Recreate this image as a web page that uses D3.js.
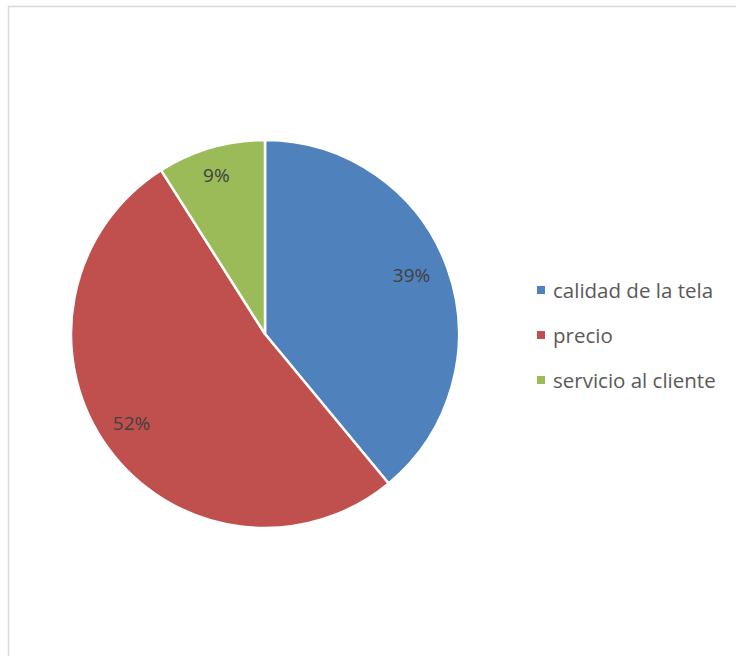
<!DOCTYPE html>
<html>
<head>
<meta charset="utf-8">
<script src="https://cdn.jsdelivr.net/npm/d3@7"></script>
<style>
  html, body { margin: 0; padding: 0; background: #fff; }
  svg { display: block; }
</style>
</head>
<body>
<svg id="chart" width="736" height="656"></svg>
<script>
// Factors reported by respondents (share of answers)
const categories = ["calidad de la tela", "precio", "servicio al cliente"];
const values = [39, 52, 9];
const colors = ["#4f81bd", "#c0504d", "#9bbb59"];

const svg = d3.select("#chart");
const W = 736, H = 656;
const font = "'Open Sans', 'Liberation Sans', sans-serif";

// chart area frame
svg.append("rect")
  .attr("x", 8.5).attr("y", 6.5)
  .attr("width", W + 10).attr("height", H + 10)
  .attr("fill", "#fff")
  .attr("stroke", "#d9d9d9").attr("stroke-width", 1.5);

const cx = 265, cy = 334, r = 194;

const pie = d3.pie().value(d => d).sort(null);
const arcs = pie(values);
const arc = d3.arc().innerRadius(0).outerRadius(r);
const labelArc = d3.arc().innerRadius(160).outerRadius(160);

const g = svg.append("g").attr("transform", `translate(${cx},${cy})`);

g.selectAll("path.slice")
  .data(arcs)
  .enter().append("path")
  .attr("class", "slice")
  .attr("d", arc)
  .attr("fill", (d, i) => colors[i])
  .attr("stroke", "#fff")
  .attr("stroke-width", 2.5)
  .attr("stroke-linejoin", "round");

g.selectAll("text.lbl")
  .data(arcs)
  .enter().append("text")
  .attr("class", "lbl")
  .attr("transform", d => {
    const [x, y] = labelArc.centroid(d);
    return `translate(${x - 4},${y - 5})`;
  })
  .attr("text-anchor", "middle")
  .attr("dominant-baseline", "central")
  .attr("font-family", font)
  .attr("font-size", 19)
  .attr("fill", "#404040")
  .text(d => d.data + "%");

// legend
const legend = svg.append("g").attr("transform", "translate(537,290)");
const rowY = d3.scalePoint().domain(categories).range([0, 90]);
const item = legend.selectAll("g.item")
  .data(categories)
  .enter().append("g")
  .attr("class", "item")
  .attr("transform", d => `translate(0,${rowY(d)})`);
item.append("rect")
  .attr("x", 0).attr("y", -4)
  .attr("width", 8).attr("height", 8)
  .attr("fill", (d, i) => colors[i]);
item.append("text")
  .attr("x", 16).attr("y", 0)
  .attr("dominant-baseline", "central")
  .attr("font-family", font)
  .attr("font-size", 20.5)
  .attr("fill", "#595959")
  .text(d => d);
</script>
</body>
</html>
